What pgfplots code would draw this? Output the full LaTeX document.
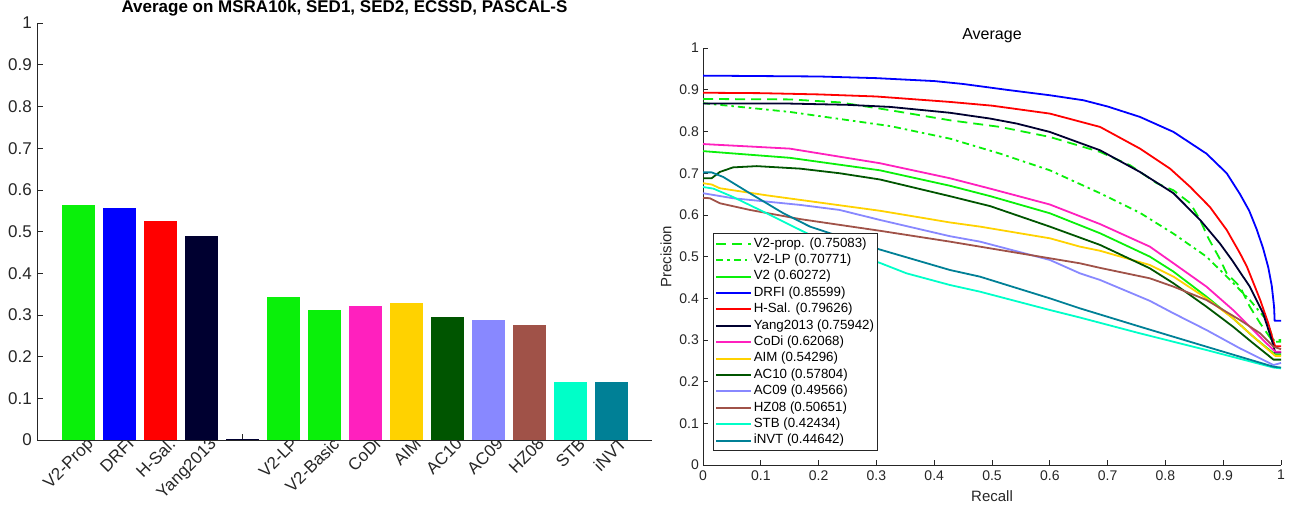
\documentclass[border=0pt]{standalone}
\usepackage{fontspec}
\setmainfont{Liberation Sans}
\usepackage{pgfplots}
\pgfplotsset{compat=1.18}
\definecolor{axgray}{RGB}{38,38,38}
\definecolor{cgreen}{RGB}{10,240,10}
\definecolor{cblue}{RGB}{0,0,255}
\definecolor{cred}{RGB}{255,0,0}
\definecolor{cnavy}{RGB}{0,0,48}
\definecolor{cpink}{RGB}{255,32,190}
\definecolor{cyellow}{RGB}{255,210,0}
\definecolor{cdkgreen}{RGB}{0,85,0}
\definecolor{clav}{RGB}{136,136,255}
\definecolor{cbrown}{RGB}{160,82,72}
\definecolor{ccyan}{RGB}{0,255,200}
\definecolor{cteal}{RGB}{0,128,150}
\begin{document}
\begin{tikzpicture}
\path (0pt,0pt) rectangle (1289pt,507pt);
% ---------------- left: bar chart ----------------
\begin{axis}[at={(37pt,67pt)}, anchor=south west, scale only axis,
  width=615pt, height=417pt,
  xmin=0, xmax=15, ymin=0, ymax=1,
  axis x line*=bottom, axis y line*=left,
  axis line style={draw=axgray, line width=0.8pt, -},
  tick style={draw=axgray, line width=0.8pt},
  tick align=inside, major tick length=6pt,
  /pgf/number format/assume math mode=true,
  xtick={1,2,3,4,5,6,7,8,9,10,11,12,13,14},
  xticklabels={V2-Prop,DRFI,H-Sal.,Yang2013,{},V2-LP,V2-Basic,CoDi,AIM,AC10,AC09,HZ08,STB,iNVT},
  ytick={0,0.1,0.2,0.3,0.4,0.5,0.6,0.7,0.8,0.9,1},
  yticklabels={0,0.1,0.2,0.3,0.4,0.5,0.6,0.7,0.8,0.9,1},
  every tick label/.append style={font=\fontsize{17}{17}\selectfont, text=axgray},
  yticklabel style={inner sep=1pt, xshift=-4pt},
  xticklabel style={rotate=45, anchor=north east, inner sep=1pt, xshift=9pt, yshift=-2pt},
  title={\bfseries Average on MSRA10k, SED1, SED2, ECSSD, PASCAL-S},
  title style={at={(0.5,1)}, anchor=south, yshift=1pt, inner sep=0pt, font=\fontsize{17}{17}\selectfont},
  clip=false]
\addplot[ybar, bar width=33pt, bar shift=0pt, fill=cgreen, draw=none] coordinates {(1,0.5627)};
\addplot[ybar, bar width=33pt, bar shift=0pt, fill=cblue, draw=none] coordinates {(2,0.5555)};
\addplot[ybar, bar width=33pt, bar shift=0pt, fill=cred, draw=none] coordinates {(3,0.5243)};
\addplot[ybar, bar width=33pt, bar shift=0pt, fill=cnavy, draw=none] coordinates {(4,0.4884)};
\addplot[ybar, bar width=33pt, bar shift=0pt, fill=cnavy, draw=none] coordinates {(5,0.003)};
\addplot[ybar, bar width=33pt, bar shift=0pt, fill=cgreen, draw=none] coordinates {(6,0.3440)};
\addplot[ybar, bar width=33pt, bar shift=0pt, fill=cgreen, draw=none] coordinates {(7,0.3110)};
\addplot[ybar, bar width=33pt, bar shift=0pt, fill=cpink, draw=none] coordinates {(8,0.3210)};
\addplot[ybar, bar width=33pt, bar shift=0pt, fill=cyellow, draw=none] coordinates {(9,0.3280)};
\addplot[ybar, bar width=33pt, bar shift=0pt, fill=cdkgreen, draw=none] coordinates {(10,0.2950)};
\addplot[ybar, bar width=33pt, bar shift=0pt, fill=clav, draw=none] coordinates {(11,0.2870)};
\addplot[ybar, bar width=33pt, bar shift=0pt, fill=cbrown, draw=none] coordinates {(12,0.2760)};
\addplot[ybar, bar width=33pt, bar shift=0pt, fill=ccyan, draw=none] coordinates {(13,0.1405)};
\addplot[ybar, bar width=33pt, bar shift=0pt, fill=cteal, draw=none] coordinates {(14,0.1405)};
\end{axis}
% ---------------- right: PR curves ----------------
\begin{axis}[at={(703pt,42pt)}, anchor=south west, scale only axis,
  width=578pt, height=417pt,
  xmin=0, xmax=1, ymin=0, ymax=1,
  axis x line*=bottom, axis y line*=left,
  axis line style={draw=axgray, line width=0.8pt, -},
  tick style={draw=axgray, line width=0.8pt},
  tick align=inside, major tick length=5pt,
  /pgf/number format/assume math mode=true,
  xtick={0,0.1,0.2,0.3,0.4,0.5,0.6,0.7,0.8,0.9,1},
  xticklabels={0,0.1,0.2,0.3,0.4,0.5,0.6,0.7,0.8,0.9,1},
  ytick={0,0.1,0.2,0.3,0.4,0.5,0.6,0.7,0.8,0.9,1},
  yticklabels={0,0.1,0.2,0.3,0.4,0.5,0.6,0.7,0.8,0.9,1},
  every tick label/.append style={font=\fontsize{14}{14}\selectfont, text=axgray},
  yticklabel style={inner sep=1pt, xshift=-3pt},
  xticklabel style={inner sep=1pt, yshift=-4pt},
  title={Average},
  title style={at={(0.5,1)}, anchor=south, yshift=-1pt, inner sep=0pt, font=\fontsize{16}{16}\selectfont},
  xlabel={Recall}, ylabel={Precision},
  xlabel style={at={(axis description cs:0.5,-0.074)}, anchor=center, font=\fontsize{15}{15}\selectfont, text=axgray},
  ylabel style={at={(axis description cs:-0.064,0.5)}, anchor=center, font=\fontsize{15}{15}\selectfont, text=axgray},
  every axis plot/.append style={line width=1.8pt, mark=none, line join=round},
  legend image code/.code={\draw[line width=2pt,#1] (0pt,0pt) -- (35pt,0pt);},
  legend cell align=left,
  legend style={at={(0.0173,0.556)}, anchor=north west, draw=axgray, line width=0.6pt, fill=white,
    font=\fontsize{13.3}{13.3}\selectfont, inner sep=2pt, row sep=0pt,
    nodes={inner sep=1.5pt, text height=10pt, text depth=3.4pt}},
  clip=false]
\addplot[draw=cgreen, dash pattern=on 10pt off 6pt] coordinates {(0,0.878) (0.15,0.877) (0.236,0.870) (0.324,0.851) (0.427,0.827) (0.514,0.811) (0.6,0.787) (0.687,0.751) (0.739,0.719) (0.785,0.676) (0.814,0.659) (0.843,0.628) (0.860,0.588) (0.874,0.545) (0.892,0.500) (0.906,0.460) (0.929,0.428) (0.946,0.380) (0.964,0.340) (0.986,0.296) (1,0.296)};
\addlegendentry{V2-prop. (0.75083)}
\addplot[draw=cgreen, dash pattern=on 7pt off 4pt on 2.5pt off 4pt] coordinates {(0,0.868) (0.15,0.847) (0.324,0.813) (0.427,0.783) (0.514,0.747) (0.6,0.707) (0.687,0.652) (0.756,0.605) (0.814,0.555) (0.871,0.500) (0.912,0.444) (0.946,0.396) (0.975,0.348) (0.987,0.300) (1,0.300)};
\addlegendentry{V2-LP (0.70771)}
\addplot[draw=cgreen] coordinates {(0,0.753) (0.15,0.737) (0.306,0.707) (0.427,0.670) (0.497,0.645) (0.6,0.604) (0.687,0.556) (0.773,0.500) (0.814,0.464) (0.871,0.404) (0.917,0.352) (0.952,0.308) (0.98,0.276) (0.99,0.265) (1,0.265)};
\addlegendentry{V2 (0.60272)}
\addplot[draw=cblue] coordinates {(0,0.934) (0.1,0.933) (0.2,0.932) (0.3,0.928) (0.4,0.921) (0.45,0.914) (0.531,0.899) (0.6,0.887) (0.658,0.875) (0.70,0.860) (0.756,0.835) (0.814,0.799) (0.871,0.747) (0.906,0.700) (0.929,0.650) (0.945,0.610) (0.958,0.565) (0.969,0.520) (0.978,0.474) (0.984,0.430) (0.988,0.380) (0.989,0.346) (1,0.346)};
\addlegendentry{DRFI (0.85599)}
\addplot[draw=cred] coordinates {(0,0.893) (0.1,0.892) (0.2,0.889) (0.3,0.884) (0.427,0.871) (0.5,0.862) (0.6,0.843) (0.687,0.811) (0.756,0.759) (0.808,0.711) (0.843,0.667) (0.877,0.619) (0.906,0.564) (0.929,0.508) (0.941,0.476) (0.964,0.396) (0.978,0.340) (0.987,0.296) (0.99,0.285) (1,0.285)};
\addlegendentry{H-Sal. (0.79626)}
\addplot[draw=cnavy] coordinates {(0,0.867) (0.15,0.867) (0.25,0.864) (0.324,0.859) (0.427,0.845) (0.497,0.831) (0.543,0.819) (0.6,0.799) (0.687,0.755) (0.756,0.703) (0.814,0.652) (0.860,0.588) (0.894,0.532) (0.915,0.492) (0.946,0.428) (0.969,0.364) (0.984,0.300) (0.99,0.27) (1,0.27)};
\addlegendentry{Yang2013 (0.75942)}
\addplot[draw=cpink] coordinates {(0,0.770) (0.15,0.759) (0.306,0.724) (0.427,0.688) (0.497,0.663) (0.6,0.625) (0.687,0.578) (0.773,0.524) (0.814,0.484) (0.871,0.428) (0.917,0.372) (0.952,0.324) (0.975,0.292) (0.99,0.272) (1,0.272)};
\addlegendentry{CoDi (0.62068)}
\addplot[draw=cyellow] coordinates {(0,0.676) (0.015,0.673) (0.029,0.664) (0.110,0.647) (0.306,0.610) (0.427,0.582) (0.479,0.572) (0.6,0.544) (0.652,0.524) (0.687,0.514) (0.773,0.480) (0.814,0.452) (0.871,0.400) (0.917,0.352) (0.952,0.308) (0.99,0.262) (1,0.262)};
\addlegendentry{AIM (0.54296)}
\addplot[draw=cdkgreen] coordinates {(0,0.688) (0.015,0.688) (0.029,0.703) (0.052,0.714) (0.093,0.717) (0.168,0.711) (0.236,0.700) (0.306,0.685) (0.427,0.645) (0.497,0.621) (0.6,0.572) (0.687,0.528) (0.773,0.472) (0.814,0.436) (0.871,0.380) (0.917,0.332) (0.952,0.292) (0.987,0.253) (1,0.253)};
\addlegendentry{AC10 (0.57804)}
\addplot[draw=clav] coordinates {(0,0.652) (0.052,0.640) (0.168,0.624) (0.236,0.612) (0.306,0.588) (0.427,0.549) (0.479,0.536) (0.6,0.492) (0.652,0.460) (0.687,0.444) (0.773,0.394) (0.814,0.364) (0.871,0.324) (0.929,0.280) (0.987,0.240) (1,0.245)};
\addlegendentry{AC09 (0.49566)}
\addplot[draw=cbrown] coordinates {(0,0.641) (0.012,0.640) (0.029,0.628) (0.081,0.612) (0.168,0.590) (0.306,0.562) (0.427,0.536) (0.479,0.524) (0.6,0.496) (0.652,0.484) (0.687,0.473) (0.773,0.448) (0.814,0.428) (0.871,0.396) (0.929,0.348) (0.964,0.316) (0.987,0.284) (1,0.278)};
\addlegendentry{HZ08 (0.50651)}
\addplot[draw=ccyan] coordinates {(0,0.667) (0.018,0.663) (0.052,0.643) (0.110,0.604) (0.168,0.564) (0.197,0.544) (0.236,0.516) (0.306,0.485) (0.352,0.460) (0.427,0.432) (0.479,0.416) (0.6,0.372) (0.652,0.354) (0.756,0.316) (0.871,0.276) (0.987,0.234) (1,0.232)};
\addlegendentry{STB (0.42434)}
\addplot[draw=cteal] coordinates {(0,0.702) (0.015,0.702) (0.035,0.691) (0.081,0.652) (0.139,0.604) (0.185,0.572) (0.237,0.548) (0.306,0.517) (0.427,0.468) (0.479,0.452) (0.6,0.400) (0.652,0.376) (0.756,0.332) (0.871,0.284) (0.987,0.236) (1,0.234)};
\addlegendentry{iNVT (0.44642)}
\end{axis}
\end{tikzpicture}
\end{document}
